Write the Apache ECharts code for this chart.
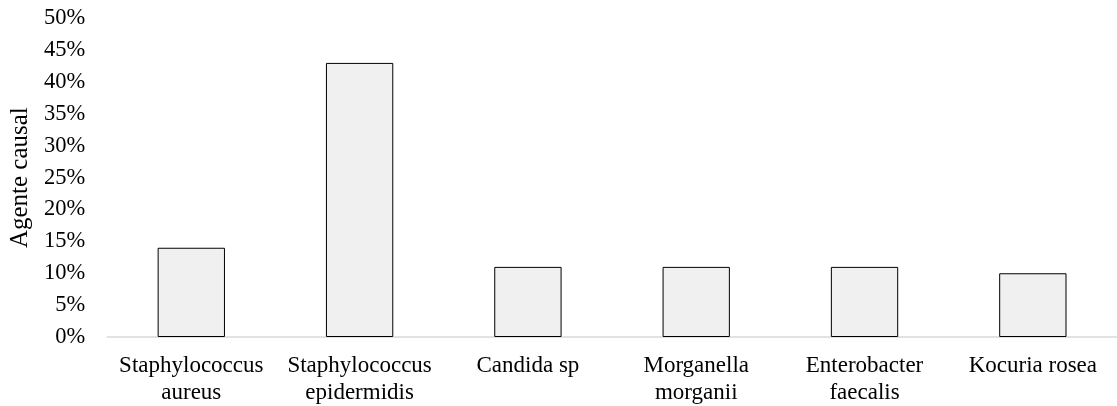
<!DOCTYPE html>
<html>
<head>
<meta charset="utf-8">
<script src="https://cdn.jsdelivr.net/npm/echarts@6/dist/echarts.min.js"></script>
<style>
html,body{margin:0;padding:0;background:#fff;}
#chart{width:1117px;height:406px;}
</style>
</head>
<body>
<div id="chart"></div>
<script>
const categories = [
  "Staphylococcus\naureus",
  "Staphylococcus\nepidermidis",
  "Candida sp",
  "Morganella\nmorganii",
  "Enterobacter\nfaecalis",
  "Kocuria rosea"
];
const values = [14, 43, 11, 11, 11, 10];
const yAxisName = "Agente causal";
const yMin = 0, yMax = 50, yStep = 5;

const font = "'Liberation Serif', 'DejaVu Serif', serif";
const chart = echarts.init(document.getElementById('chart'), null, {renderer: 'canvas'});
chart.setOption({
  animation: false,
  backgroundColor: '#fff',
  grid: {left: 105.5, top: 18.3, width: 1020.5, height: 319, containLabel: false},
  xAxis: {
    type: 'category',
    data: categories,
    axisLine: {show: true, lineStyle: {color: '#d9d9d9', width: 1.5}},
    axisTick: {show: false},
    axisLabel: {color: '#000', fontFamily: font, fontSize: 23, lineHeight: 27, margin: 15, interval: 0}
  },
  yAxis: {
    type: 'value',
    min: yMin, max: yMax, interval: yStep,
    name: yAxisName,
    nameLocation: 'middle',
    nameGap: 72,
    nameTextStyle: {color: '#000', fontFamily: font, fontSize: 25},
    axisLine: {show: false},
    axisTick: {show: false},
    splitLine: {show: false},
    axisLabel: {color: '#000', fontFamily: font, fontSize: 22.5, margin: 22, formatter: v => v + '%'}
  },
  series: [{
    type: 'bar',
    data: values,
    barCategoryGap: '60%',
    itemStyle: {color: '#f0f0f0', borderColor: '#000', borderWidth: 1}
  }]
});
</script>
</body>
</html>
